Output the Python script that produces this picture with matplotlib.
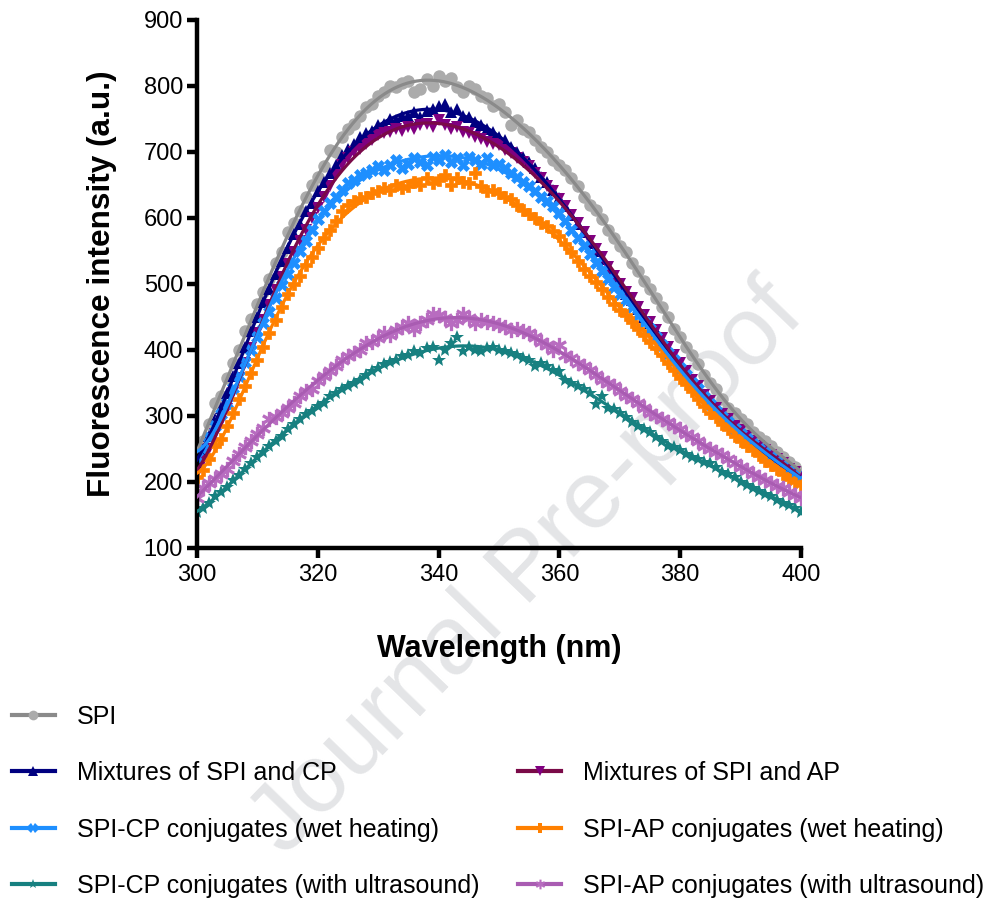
import numpy as np
import matplotlib
matplotlib.use('Agg')
import matplotlib.pyplot as plt
from matplotlib.lines import Line2D

plt.rcParams['font.family'] = ['Liberation Sans', 'DejaVu Sans']

# wavelength (nm), one reading per nm
wavelength = np.arange(300, 401)

spi = [250, 262, 288, 320, 330, 358, 380, 400, 428, 447, 470, 488, 508, 532, 548, 578, 592, 610, 632, 650,
       662, 678, 703, 700, 722, 735, 742, 755, 768, 772, 785, 790, 800, 798, 805, 808, 790, 795, 810, 800,
       815, 808, 812, 798, 790, 800, 795, 785, 782, 770, 772, 760, 740, 748, 735, 730, 718, 708, 700, 688,
       680, 672, 660, 648, 632, 620, 612, 598, 582, 570, 558, 548, 532, 520, 505, 492, 478, 465, 450, 432,
       420, 405, 392, 378, 362, 350, 340, 325, 312, 305, 295, 288, 275, 268, 262, 255, 245, 238, 230, 222, 215]

mix_cp = [230, 250, 270, 295, 312, 335, 360, 380, 405, 428, 450, 472, 492, 515, 535, 555, 575, 590, 610, 622,
          640, 655, 668, 680, 695, 705, 712, 722, 728, 732, 740, 742, 750, 748, 755, 755, 760, 752, 762, 765,
          770, 772, 760, 765, 755, 752, 745, 740, 735, 730, 722, 718, 708, 700, 692, 685, 675, 662, 655, 642,
          630, 618, 605, 590, 578, 562, 550, 538, 522, 510, 498, 485, 475, 462, 450, 440, 428, 415, 402, 390,
          378, 365, 355, 342, 330, 320, 310, 300, 290, 282, 275, 268, 260, 252, 245, 238, 232, 225, 218, 212, 205]

mix_ap = [212, 232, 250, 272, 290, 310, 335, 358, 380, 402, 425, 445, 468, 490, 510, 530, 548, 565, 582, 600,
          615, 632, 648, 665, 680, 690, 700, 705, 712, 718, 725, 728, 730, 735, 732, 738, 735, 740, 742, 738,
          748, 740, 735, 738, 730, 728, 722, 720, 715, 712, 710, 702, 698, 690, 685, 678, 668, 660, 648, 640,
          628, 618, 605, 592, 578, 565, 552, 540, 525, 512, 500, 488, 478, 465, 452, 442, 430, 418, 405, 392,
          380, 368, 355, 345, 332, 322, 312, 302, 295, 285, 278, 270, 262, 255, 248, 240, 235, 228, 220, 215, 208]

cp_wet = [238, 250, 268, 285, 302, 320, 342, 360, 382, 400, 420, 440, 458, 478, 498, 515, 532, 550, 565, 582,
          598, 610, 622, 632, 642, 652, 658, 665, 668, 672, 678, 672, 680, 688, 675, 682, 690, 685, 680, 692,
          688, 695, 685, 690, 680, 692, 688, 682, 690, 680, 682, 675, 668, 662, 655, 648, 640, 632, 625, 618,
          608, 595, 582, 570, 558, 545, 532, 520, 508, 495, 485, 475, 465, 452, 442, 432, 420, 408, 395, 385,
          372, 362, 350, 340, 328, 318, 308, 298, 290, 280, 272, 265, 258, 250, 245, 238, 232, 225, 218, 212, 205]

ap_wet = [208, 218, 235, 255, 265, 285, 305, 325, 345, 365, 385, 405, 425, 445, 465, 485, 500, 512, 528, 540,
          555, 570, 582, 595, 610, 620, 625, 630, 632, 638, 640, 645, 642, 650, 645, 648, 655, 650, 660, 652,
          658, 665, 650, 660, 655, 652, 668, 648, 640, 642, 638, 632, 628, 620, 612, 606, 600, 592, 588, 580,
          572, 560, 548, 535, 522, 512, 502, 492, 480, 470, 460, 452, 442, 432, 422, 412, 402, 392, 380, 370,
          358, 348, 338, 325, 315, 305, 298, 288, 280, 270, 262, 255, 248, 240, 232, 225, 220, 212, 205, 200, 195]

cp_us = [155, 160, 168, 178, 185, 192, 202, 210, 220, 228, 238, 245, 255, 262, 270, 280, 288, 295, 302, 308,
         315, 320, 330, 335, 340, 345, 350, 355, 362, 368, 372, 378, 382, 385, 390, 392, 398, 395, 402, 405,
         385, 400, 410, 420, 398, 405, 400, 398, 402, 405, 400, 398, 395, 392, 388, 385, 375, 380, 375, 370,
         368, 355, 350, 345, 340, 335, 318, 330, 312, 310, 305, 298, 290, 285, 280, 275, 268, 262, 255, 252,
         248, 242, 238, 235, 230, 228, 222, 215, 212, 208, 200, 195, 190, 186, 182, 178, 172, 168, 165, 160, 155]

ap_us = [175, 190, 198, 205, 212, 220, 232, 242, 252, 262, 272, 282, 295, 298, 305, 312, 320, 330, 338, 340,
         352, 360, 368, 375, 385, 390, 395, 400, 410, 412, 418, 425, 422, 430, 435, 440, 432, 440, 445, 455,
         452, 448, 440, 445, 455, 448, 440, 445, 442, 440, 438, 435, 430, 432, 428, 425, 420, 412, 408, 400,
         408, 392, 388, 380, 375, 370, 362, 355, 350, 345, 338, 330, 325, 320, 312, 305, 300, 295, 290, 285,
         280, 272, 268, 262, 255, 250, 245, 240, 235, 228, 222, 218, 212, 208, 202, 198, 194, 190, 185, 180, 176]

labels = ['SPI', 'Mixtures of SPI and CP', 'SPI-CP conjugates (wet heating)',
          'SPI-CP conjugates (with ultrasound)', 'Mixtures of SPI and AP',
          'SPI-AP conjugates (wet heating)', 'SPI-AP conjugates (with ultrasound)']
series = [spi, mix_cp, cp_wet, cp_us, mix_ap, ap_wet, ap_us]
# (marker, marker colour, line colour, marker size)
styles = [('o', '#ababab', '#8a8a8a', 9),
          ('^', '#000080', '#000080', 8),
          ('X', '#1e8fff', '#1e8fff', 8),
          ('*', '#178080', '#178080', 10),
          ('v', '#800080', '#7a0a48', 8),
          ('P', '#ff8000', '#ff8000', 8),
          ('$\u2731$', '#b86cc0', '#a95cb2', 11)]

fig = plt.figure(figsize=(9.95, 9.01), dpi=100)
ax = fig.add_axes([0.198, 0.392, 0.607, 0.586])
ax.set_facecolor('none')

# watermark
fig.text(0.53, 0.368, 'Journal Pre-proof', rotation=46, fontsize=70, color='#e4e5e7',
         ha='center', va='center', zorder=-1)

xfine = np.linspace(300, 400, 400)
draw_order = [0, 1, 4, 2, 5, 3, 6]
for i in draw_order:
    m, mc, lc, ms = styles[i]
    y = np.array(series[i], dtype=float)
    ax.plot(wavelength, y, linestyle='none', marker=m, color=mc, markersize=ms,
            markeredgewidth=0 if m not in ('X', 'P') else 0.5, markeredgecolor=mc, zorder=2)
    fit = np.polynomial.Polynomial.fit(wavelength, y, 8)
    ax.plot(xfine, fit(xfine), color=lc, linewidth=2.3, zorder=3)

handles = []
for i in range(7):
    m, mc, lc, ms = styles[i]
    handles.append(Line2D([], [], color=lc, linewidth=3, marker=m, markersize=7,
                          markerfacecolor=mc, markeredgecolor=mc, markeredgewidth=0))

blank = Line2D([], [], alpha=0)
leg_handles = handles[:4] + [blank] + handles[4:]
leg_labels = labels[:4] + [''] + labels[4:]

ax.set_xlim(300, 400)
ax.set_ylim(100, 900)
ax.set_xticks([300, 320, 340, 360, 380, 400])
ax.set_yticks(range(100, 901, 100))
for s in ['top', 'right']:
    ax.spines[s].set_visible(False)
for s in ['left', 'bottom']:
    ax.spines[s].set_linewidth(3.2)
ax.tick_params(width=3.2, length=7, labelsize=17, pad=3)
ax.tick_params(axis='x', pad=5)
ax.set_xlabel('Wavelength (nm)', fontsize=22, fontweight='bold', labelpad=34)
ax.set_ylabel('Fluorescence intensity (a.u.)', fontsize=22.7, fontweight='bold', labelpad=19)

fig.legend(leg_handles, leg_labels, loc='upper left', bbox_to_anchor=(0.012, 0.218),
           ncol=2, frameon=False, fontsize=18, handlelength=1.72, handletextpad=0.88,
           columnspacing=1.56, labelspacing=1.3, borderpad=0, borderaxespad=0)

fig.savefig('out.png', dpi=100)
